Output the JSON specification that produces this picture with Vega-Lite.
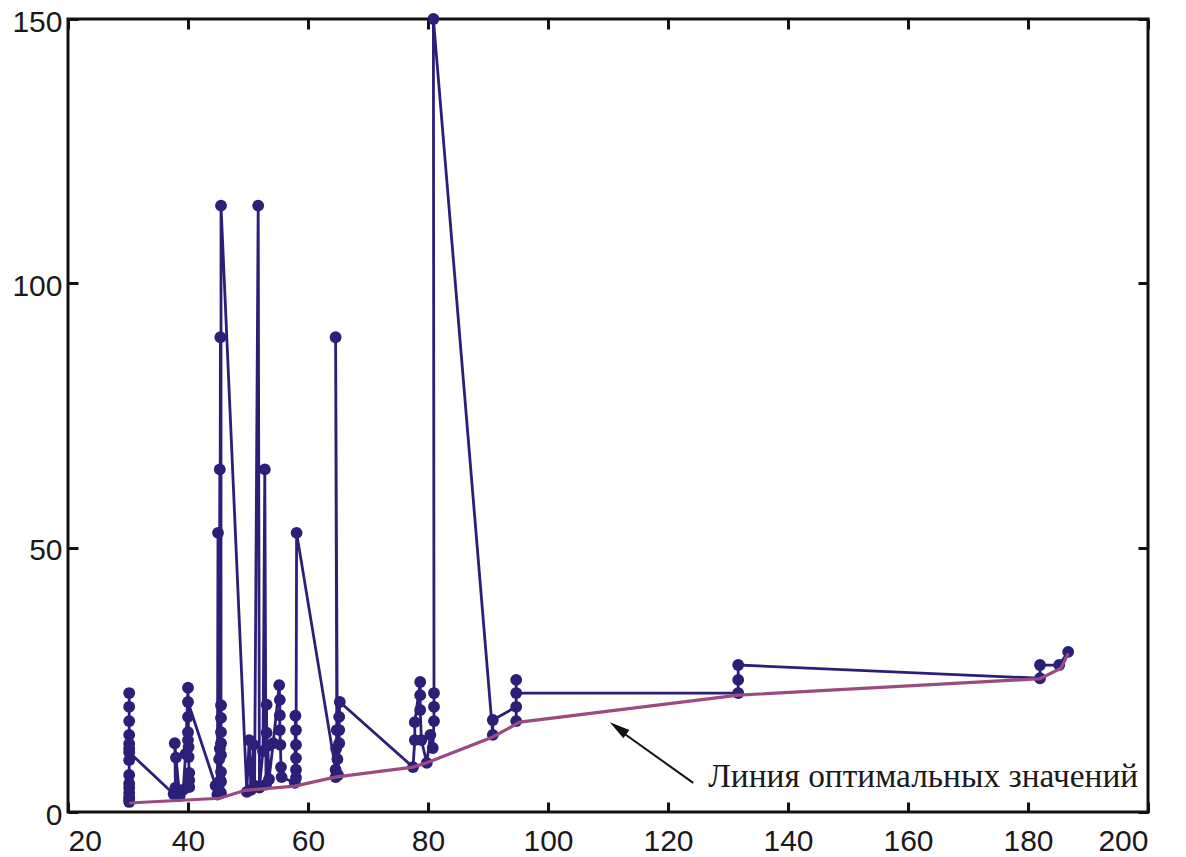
{
  "$schema": "https://vega.github.io/schema/vega-lite/v6.json",
  "width": 1080,
  "height": 793,
  "autosize": {"type": "none"},
  "padding": {"left": 68, "top": 19, "right": 38, "bottom": 45},
  "background": "white",
  "config": {
    "view": {"stroke": "#111111", "strokeWidth": 3},
    "axis": {"grid": false, "domain": false, "labelFont": "Liberation Sans", "labelFontSize": 30, "labelColor": "#1a1a1a", "tickColor": "#111111", "tickWidth": 3, "tickSize": -10, "titleFontSize": 0}
  },
  "datasets": {
    "trace": [
      {"i": 1, "x": 30.2, "y": 1.9}, {"i": 2, "x": 30.2, "y": 2.3}, {"i": 3, "x": 30.2, "y": 2.8}, {"i": 4, "x": 30.2, "y": 3.6}, {"i": 5, "x": 30.2, "y": 4.6}, {"i": 6, "x": 30.2, "y": 5.4}, {"i": 7, "x": 30.2, "y": 7.0}, {"i": 8, "x": 30.2, "y": 9.8}, {"i": 9, "x": 30.2, "y": 22.5}, {"i": 10, "x": 30.2, "y": 19.9}, {"i": 11, "x": 30.2, "y": 17.2}, {"i": 12, "x": 30.2, "y": 14.6}, {"i": 13, "x": 30.2, "y": 12.9}, {"i": 14, "x": 30.2, "y": 12.0}, {"i": 15, "x": 30.2, "y": 11.3},
      {"i": 16, "x": 37.6, "y": 3.4}, {"i": 17, "x": 37.9, "y": 4.6}, {"i": 18, "x": 37.8, "y": 13.0}, {"i": 19, "x": 38.0, "y": 10.3}, {"i": 20, "x": 38.6, "y": 3.0}, {"i": 21, "x": 39.2, "y": 4.2}, {"i": 22, "x": 39.6, "y": 11.0},
      {"i": 23, "x": 40.0, "y": 23.5}, {"i": 24, "x": 40.1, "y": 12.3}, {"i": 25, "x": 40.2, "y": 4.7}, {"i": 26, "x": 40.2, "y": 6.0}, {"i": 27, "x": 40.2, "y": 7.4}, {"i": 28, "x": 40.1, "y": 10.4}, {"i": 29, "x": 40.0, "y": 13.6}, {"i": 30, "x": 40.0, "y": 15.1}, {"i": 31, "x": 40.0, "y": 18.0}, {"i": 32, "x": 40.0, "y": 20.8},
      {"i": 33, "x": 44.6, "y": 5.0}, {"i": 34, "x": 44.9, "y": 3.3}, {"i": 35, "x": 45.0, "y": 52.8}, {"i": 36, "x": 45.1, "y": 4.5}, {"i": 37, "x": 45.2, "y": 10.0}, {"i": 38, "x": 45.3, "y": 64.8}, {"i": 39, "x": 45.3, "y": 12.0}, {"i": 40, "x": 45.4, "y": 89.8}, {"i": 41, "x": 45.4, "y": 6.0},
      {"i": 42, "x": 45.5, "y": 3.6}, {"i": 43, "x": 45.5, "y": 5.7}, {"i": 44, "x": 45.5, "y": 7.6}, {"i": 45, "x": 45.5, "y": 10.8}, {"i": 46, "x": 45.5, "y": 13.0}, {"i": 47, "x": 45.5, "y": 15.1}, {"i": 48, "x": 45.5, "y": 17.8}, {"i": 49, "x": 45.5, "y": 20.2}, {"i": 50, "x": 45.5, "y": 114.7},
      {"i": 51, "x": 49.8, "y": 3.8}, {"i": 52, "x": 50.2, "y": 13.6}, {"i": 53, "x": 50.5, "y": 4.2}, {"i": 54, "x": 50.9, "y": 12.7}, {"i": 55, "x": 51.1, "y": 5.0}, {"i": 56, "x": 51.7, "y": 114.7}, {"i": 57, "x": 51.9, "y": 4.6}, {"i": 58, "x": 52.5, "y": 11.5}, {"i": 59, "x": 52.8, "y": 64.8}, {"i": 60, "x": 53.0, "y": 5.2}, {"i": 61, "x": 53.1, "y": 20.3}, {"i": 62, "x": 53.1, "y": 15.0}, {"i": 63, "x": 53.3, "y": 12.5}, {"i": 64, "x": 53.5, "y": 6.2}, {"i": 65, "x": 54.2, "y": 13.0},
      {"i": 66, "x": 55.2, "y": 24.0}, {"i": 67, "x": 55.3, "y": 21.2}, {"i": 68, "x": 55.3, "y": 18.3}, {"i": 69, "x": 55.3, "y": 15.5}, {"i": 70, "x": 55.4, "y": 12.7}, {"i": 71, "x": 55.5, "y": 8.5}, {"i": 72, "x": 55.6, "y": 6.6},
      {"i": 73, "x": 57.8, "y": 5.5}, {"i": 74, "x": 57.9, "y": 18.2}, {"i": 75, "x": 58.0, "y": 15.5}, {"i": 76, "x": 58.0, "y": 12.7}, {"i": 77, "x": 58.0, "y": 10.2}, {"i": 78, "x": 58.0, "y": 8.0}, {"i": 79, "x": 58.0, "y": 6.5}, {"i": 80, "x": 58.1, "y": 52.8},
      {"i": 81, "x": 64.6, "y": 8.0}, {"i": 82, "x": 64.6, "y": 6.6}, {"i": 83, "x": 64.7, "y": 12.0}, {"i": 84, "x": 64.8, "y": 15.5}, {"i": 85, "x": 64.6, "y": 89.8}, {"i": 86, "x": 64.9, "y": 10.0}, {"i": 87, "x": 65.0, "y": 7.0}, {"i": 88, "x": 65.2, "y": 13.0}, {"i": 89, "x": 65.2, "y": 15.5}, {"i": 90, "x": 65.2, "y": 18.0}, {"i": 91, "x": 65.3, "y": 20.8},
      {"i": 92, "x": 77.5, "y": 8.5}, {"i": 93, "x": 77.8, "y": 13.6}, {"i": 94, "x": 77.8, "y": 17.0}, {"i": 95, "x": 78.7, "y": 24.6}, {"i": 96, "x": 78.7, "y": 22.1}, {"i": 97, "x": 78.7, "y": 19.3}, {"i": 98, "x": 78.9, "y": 13.6}, {"i": 99, "x": 79.8, "y": 9.3}, {"i": 100, "x": 80.4, "y": 14.6}, {"i": 101, "x": 80.8, "y": 12.1}, {"i": 102, "x": 81.0, "y": 17.2}, {"i": 103, "x": 81.0, "y": 19.9}, {"i": 104, "x": 81.0, "y": 22.5}, {"i": 105, "x": 80.9, "y": 150.0},
      {"i": 106, "x": 90.8, "y": 14.6}, {"i": 107, "x": 90.8, "y": 17.4}, {"i": 108, "x": 94.7, "y": 19.9}, {"i": 109, "x": 94.7, "y": 17.2}, {"i": 110, "x": 94.7, "y": 25.0}, {"i": 111, "x": 94.7, "y": 22.5},
      {"i": 112, "x": 131.7, "y": 22.5}, {"i": 113, "x": 131.7, "y": 25.0}, {"i": 114, "x": 131.7, "y": 27.8}, {"i": 115, "x": 182.0, "y": 25.3}, {"i": 116, "x": 182.0, "y": 27.8}, {"i": 117, "x": 185.2, "y": 27.8}, {"i": 118, "x": 186.7, "y": 30.3}
    ],
    "optimal": [
      {"i": 1, "x": 30.2, "y": 1.7}, {"i": 2, "x": 45.3, "y": 2.6}, {"i": 3, "x": 49.5, "y": 4.1}, {"i": 4, "x": 57.8, "y": 4.9}, {"i": 5, "x": 64.5, "y": 6.6}, {"i": 6, "x": 77.5, "y": 8.5}, {"i": 7, "x": 79.8, "y": 9.3}, {"i": 8, "x": 90.8, "y": 14.2}, {"i": 9, "x": 95.3, "y": 17.0}, {"i": 10, "x": 131.7, "y": 22.1}, {"i": 11, "x": 182.0, "y": 25.2}, {"i": 12, "x": 185.5, "y": 27.2}, {"i": 13, "x": 186.7, "y": 30.0}
    ],
    "arrow": [{"x": 124.2, "y": 5.5, "x2": 111.5, "y2": 15.8}],
    "arrowhead": [{"x": 110.3, "y": 17.0}],
    "label": [{"x": 126.7, "y": 4.7, "text": "Линия оптимальных значений"}]
  },
  "resolve": {"axis": {"x": "independent", "y": "independent"}},
  "layer": [
    {
      "data": {"name": "trace"},
      "mark": {"type": "line", "color": "#2b1f78", "strokeWidth": 2.8},
      "encoding": {
        "x": {"field": "x", "type": "quantitative", "scale": {"domain": [20, 200], "nice": false, "zero": false}, "axis": {"orient": "bottom", "values": [20, 40, 60, 80, 100, 120, 140, 160, 180, 200], "labelPadding": 24, "title": null}},
        "y": {"field": "y", "type": "quantitative", "scale": {"domain": [0, 150], "nice": false, "zero": false}, "axis": {"orient": "left", "values": [0, 50, 100, 150], "labelPadding": 16, "labelOffset": 3, "title": null}},
        "order": {"field": "i", "type": "quantitative"}
      }
    },
    {
      "data": {"name": "trace"},
      "mark": {"type": "point", "filled": true, "opacity": 1, "color": "#2b1f78", "size": 140},
      "encoding": {
        "x": {"field": "x", "type": "quantitative", "axis": {"orient": "top", "values": [20, 40, 60, 80, 100, 120, 140, 160, 180, 200], "labels": false, "title": null}},
        "y": {"field": "y", "type": "quantitative", "axis": {"orient": "right", "values": [0, 50, 100, 150], "labels": false, "title": null}}
      }
    },
    {
      "data": {"name": "optimal"},
      "mark": {"type": "line", "color": "#9b4b7f", "strokeWidth": 3.2},
      "encoding": {
        "x": {"field": "x", "type": "quantitative", "axis": null},
        "y": {"field": "y", "type": "quantitative", "axis": null},
        "order": {"field": "i", "type": "quantitative"}
      }
    },
    {
      "data": {"name": "arrow"},
      "mark": {"type": "rule", "color": "#111111", "strokeWidth": 2},
      "encoding": {
        "x": {"field": "x", "type": "quantitative", "axis": null},
        "y": {"field": "y", "type": "quantitative", "axis": null},
        "x2": {"field": "x2"},
        "y2": {"field": "y2"}
      }
    },
    {
      "data": {"name": "arrowhead"},
      "mark": {"type": "point", "filled": true, "opacity": 1, "color": "#111111", "shape": "M0,0L0.5,2L-0.5,2Z", "size": 420, "angle": 306},
      "encoding": {
        "x": {"field": "x", "type": "quantitative", "axis": null},
        "y": {"field": "y", "type": "quantitative", "axis": null}
      }
    },
    {
      "data": {"name": "label"},
      "mark": {"type": "text", "font": "Liberation Serif", "fontSize": 33.4, "align": "left", "baseline": "alphabetic", "color": "#1a1a1a"},
      "encoding": {
        "x": {"field": "x", "type": "quantitative", "axis": null},
        "y": {"field": "y", "type": "quantitative", "axis": null},
        "text": {"field": "text"}
      }
    }
  ]
}
